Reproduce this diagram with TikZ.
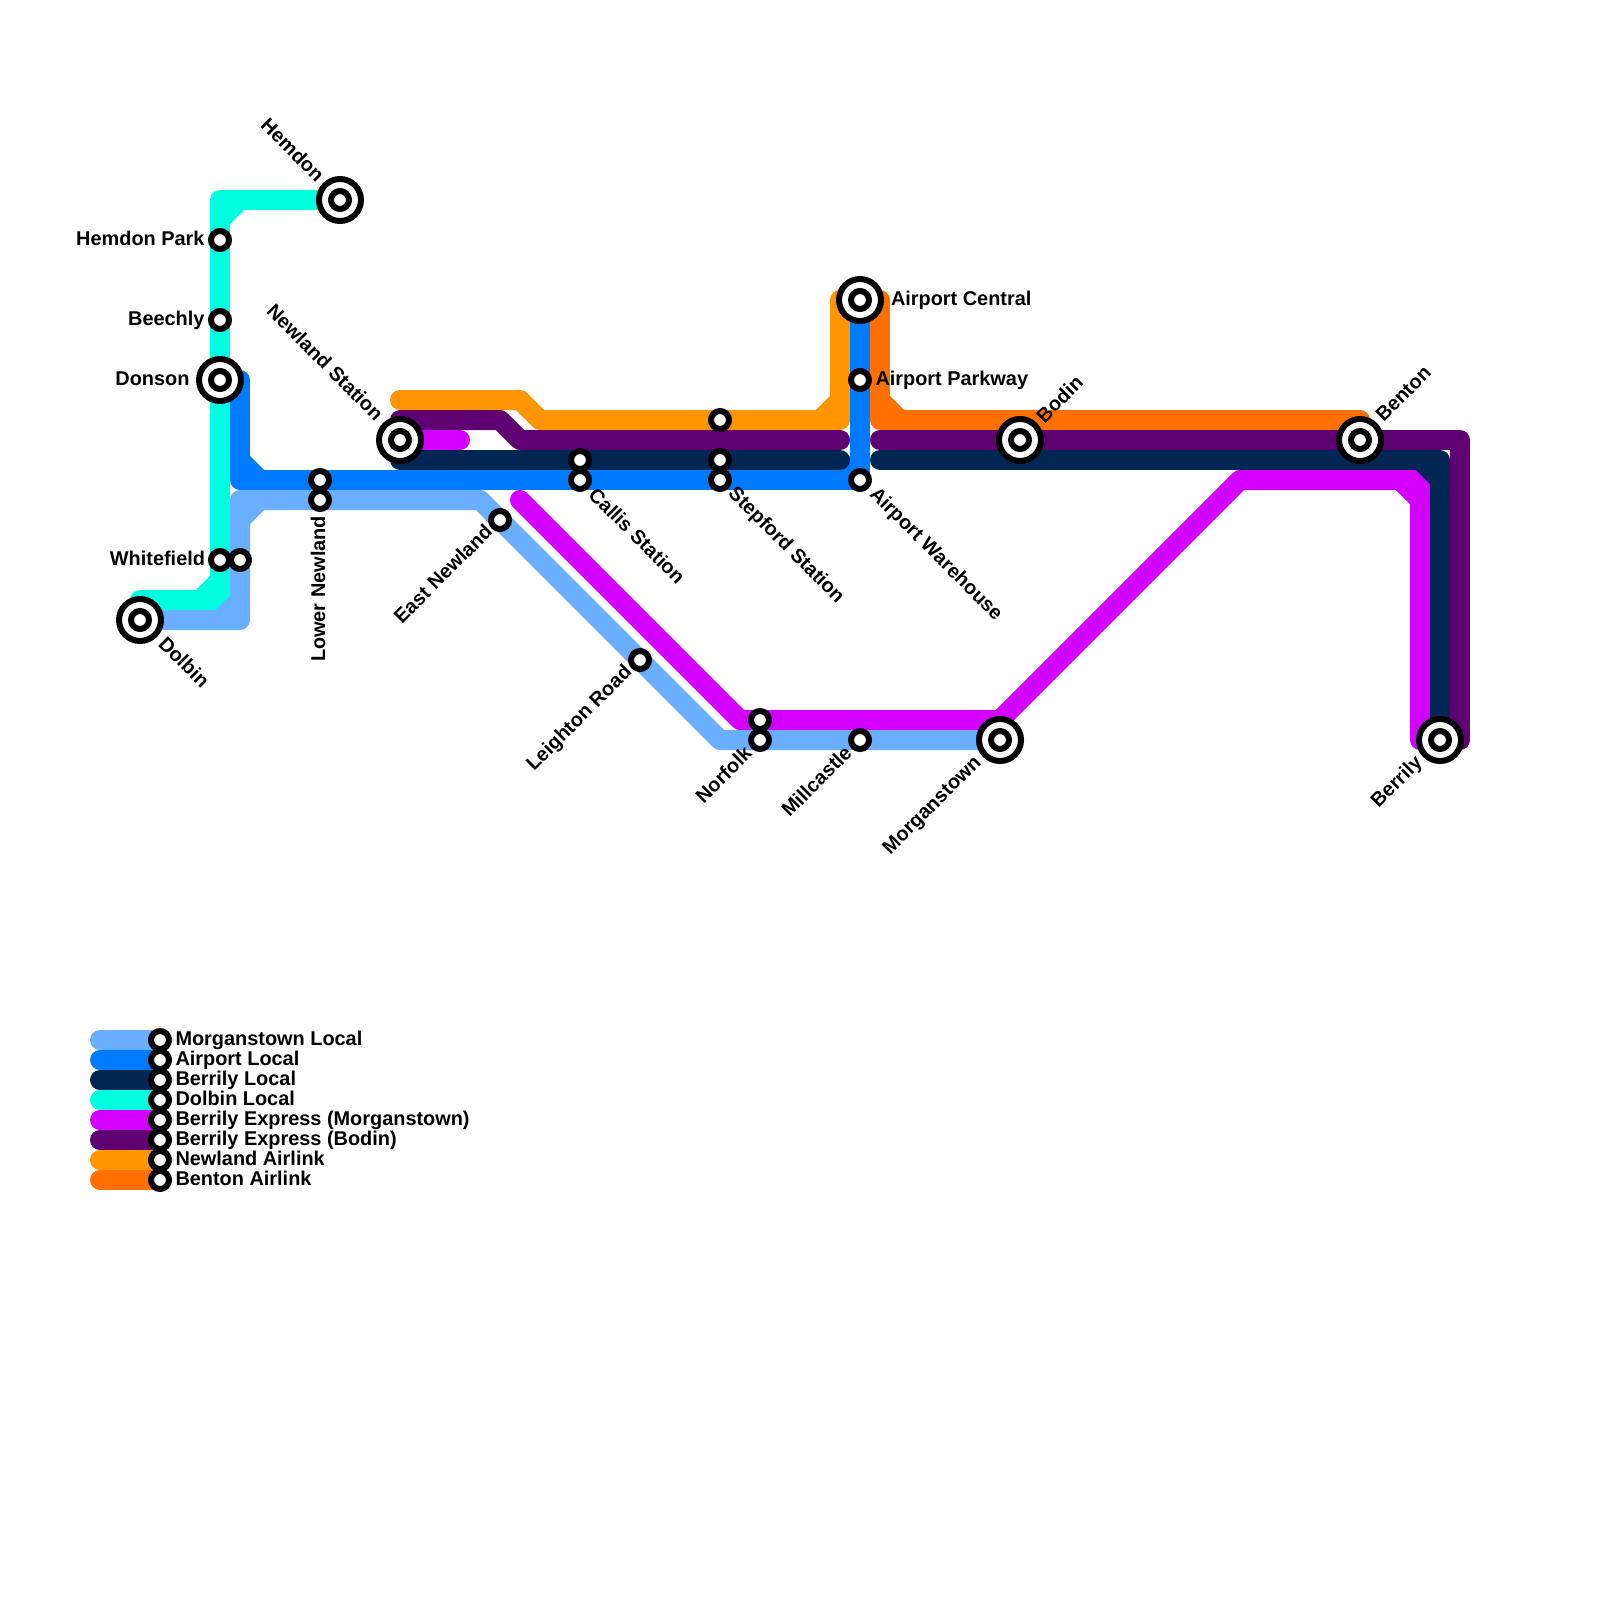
\documentclass[tikz,border=0pt]{standalone}
\usepackage{fontspec}
\setmainfont{Liberation Sans}
\usetikzlibrary{backgrounds}
\definecolor{cMorg}{HTML}{69AEFF}
\definecolor{cAir}{HTML}{007AFF}
\definecolor{cBer}{HTML}{002654}
\definecolor{cDol}{HTML}{00FFE1}
\definecolor{cExM}{HTML}{D400FF}
\definecolor{cExB}{HTML}{5F0073}
\definecolor{cNew}{HTML}{FF9500}
\definecolor{cBen}{HTML}{FF7000}
\tikzset{
  metro/.style={line width=20pt,line cap=round,line join=round,draw=#1},
  stop/.style={circle,draw=black,fill=white,line width=6pt,minimum size=18pt,inner sep=0pt,outer sep=0pt},
  hub/.style={circle,draw=black,fill=white,line width=6pt,minimum size=42pt,inner sep=0pt,outer sep=0pt},
  lab/.style={font=\bfseries\fontsize{19.9}{22}\selectfont,text=black,inner sep=0pt,outer sep=0pt},
  dn/.style={lab,rotate=-45},
  up/.style={lab,rotate=45}
}
\newcommand{\hubat}[2]{\node[hub] (#1) at (#2) {}; \node[stop] (#1-core) at (#2) {};}
\begin{document}
\begin{tikzpicture}[x=1pt,y=-1pt]
\useasboundingbox (0,0) rectangle (1600,1600);
% stations
\hubat{hemdon}{340,200}
\node[stop] (hemdonpark) at (220,240) {};
\node[stop] (beechly) at (220,320) {};
\hubat{donson}{220,380}
\node[stop] (whitefield) at (220,560) {};
\node[stop] (whitefieldb) at (240,560) {};
\hubat{dolbin}{140,620}
\node[stop] (lowera) at (320,480) {};
\node[stop] (lowerb) at (320,500) {};
\hubat{newland}{400,440}
\node[stop] (eastnewland) at (500,520) {};
\node[stop] (callisa) at (580,460) {};
\node[stop] (callisb) at (580,480) {};
\node[stop] (stepforda) at (720,420) {};
\node[stop] (stepfordb) at (720,460) {};
\node[stop] (stepfordc) at (720,480) {};
\node[stop] (warehouse) at (860,480) {};
\node[stop] (parkway) at (860,380) {};
\hubat{central}{860,300}
\hubat{bodin}{1020,440}
\hubat{benton}{1360,440}
\hubat{berrily}{1440,740}
\node[stop] (leighton) at (640,660) {};
\node[stop] (norfolka) at (760,720) {};
\node[stop] (norfolkb) at (760,740) {};
\node[stop] (millcastle) at (860,740) {};
\hubat{morganstown}{1000,740}
% legend stops
\foreach \n/\y in {1/1040,2/1060,3/1080,4/1100,5/1120,6/1140,7/1160,8/1180}
  \node[stop] (key\n) at (160,\y) {};
% coordinates for free ends
\coordinate (newlandstub) at (460,440);
\coordinate (expstart) at (520,500);
\coordinate (navyleft) at (840,460);
\coordinate (navyright) at (880,460);
\coordinate (purpleleft) at (840,440);
\coordinate (purpleright) at (880,440);
\foreach \n/\y in {1/1040,2/1060,3/1080,4/1100,5/1120,6/1140,7/1160,8/1180}
  \coordinate (keystart\n) at (100,\y);
% lines, last drawn lies on top
\begin{scope}[on background layer]
\draw[metro=cBen] (central.center -| 880,0) -- (880,420) -- (benton.center |- 0,420);
\draw[metro=cBen] (880,400) -- (900,420);
\draw[metro=cNew] (400,400) -- (520,400) -- (540,420) -- (840,420) -- (840,300);
\draw[metro=cNew] (820,420) -- (840,400);
\draw[metro=cExB] (newland.center) -- (400,420) -- (500,420) -- (520,440) -- (purpleleft);
\draw[metro=cExB] (purpleright) -- (1460,440) -- (1460,740) -- (berrily.center);
\draw[metro=cExM] (newland.center) -- (newlandstub);
\draw[metro=cExM] (expstart) -- (740,720) -- (1000,720) -- (1240,480) -- (1420,480) -- (1420,740) -- (berrily.center);
\draw[metro=cExM] (1400,480) -- (1420,500);
\draw[metro=cDol] (hemdon.center) -- (220,200) -- (220,600) -- (140,600) -- (dolbin.center);
\draw[metro=cDol] (240,200) -- (220,220);
\draw[metro=cDol] (220,580) -- (200,600);
\draw[metro=cAir] (donson.center -| 240,0) -- (240,480) -- (860,480) -- (central.center);
\draw[metro=cAir] (240,460) -- (260,480);
\draw[metro=cAir] (840,480) -- (860,460);
\draw[metro=cBer] (newland.center) -- (400,460) -- (navyleft);
\draw[metro=cBer] (navyright) -- (1440,460) -- (berrily.center);
\draw[metro=cBer] (1420,460) -- (1440,480);
\draw[metro=cMorg] (dolbin.center) -- (240,620) -- (240,500) -- (480,500) -- (720,740) -- (morganstown.center);
\draw[metro=cMorg] (240,520) -- (260,500);
\draw[metro=cMorg] (220,620) -- (240,600);
% legend lines
\draw[metro=cMorg] (keystart1) -- (key1.center);
\draw[metro=cAir] (keystart2) -- (key2.center);
\draw[metro=cBer] (keystart3) -- (key3.center);
\draw[metro=cDol] (keystart4) -- (key4.center);
\draw[metro=cExM] (keystart5) -- (key5.center);
\draw[metro=cExB] (keystart6) -- (key6.center);
\draw[metro=cNew] (keystart7) -- (key7.center);
\draw[metro=cBen] (keystart8) -- (key8.center);
\end{scope}
% labels
\node[lab,anchor=base east] (lHemdonPark) at (204.5,245.5) {Hemdon Park};
\node[lab,anchor=base east] (lBeechly) at (204.5,325) {Beechly};
\node[lab,anchor=base east] (lDonson) at (189.5,385.5) {Donson};
\node[lab,anchor=base east] (lWhitefield) at (205,565) {Whitefield};
\node[lab,anchor=base west] (lCentral) at (891,305) {Airport Central};
\node[lab,anchor=base west] (lParkway) at (875.5,385) {Airport Parkway};
\node[dn,anchor=east] (lHemdon) at (321,178) {Hemdon};
\node[dn,anchor=east] (lNewland) at (380,417) {Newland Station};
\node[dn,anchor=west] (lDolbin) at (162.5,640) {Dolbin};
\node[dn,anchor=west] (lCallis) at (592.5,491) {Callis Station};
\node[dn,anchor=west] (lStepford) at (731,491) {Stepford Station};
\node[dn,anchor=west] (lWarehouse) at (872.5,491.5) {Airport Warehouse};
\node[lab,rotate=90,anchor=base east] (lLower) at (325,516) {Lower Newland};
\node[up,anchor=east] (lEast) at (488.5,528) {East Newland};
\node[up,anchor=east] (lLeighton) at (629,669.5) {Leighton Road};
\node[up,anchor=east] (lNorfolk) at (748,750) {Norfolk};
\node[up,anchor=east] (lMillcastle) at (848,749.5) {Millcastle};
\node[up,anchor=east] (lMorganstown) at (978.5,760.5) {Morganstown};
\node[up,anchor=east] (lBerrily) at (1419.5,760.5) {Berrily};
\node[up,anchor=west] (lBodin) at (1039.5,419) {Bodin};
\node[up,anchor=west] (lBenton) at (1379,418) {Benton};
% legend text
\node[lab,anchor=base west] (t1) at (175.5,1045) {Morganstown Local};
\node[lab,anchor=base west] (t2) at (175.5,1065) {Airport Local};
\node[lab,anchor=base west] (t3) at (175.5,1085) {Berrily Local};
\node[lab,anchor=base west] (t4) at (175.5,1105) {Dolbin Local};
\node[lab,anchor=base west] (t5) at (175.5,1125) {Berrily Express (Morganstown)};
\node[lab,anchor=base west] (t6) at (175.5,1145) {Berrily Express (Bodin)};
\node[lab,anchor=base west] (t7) at (175.5,1165) {Newland Airlink};
\node[lab,anchor=base west] (t8) at (175.5,1185) {Benton Airlink};
\end{tikzpicture}
\end{document}
